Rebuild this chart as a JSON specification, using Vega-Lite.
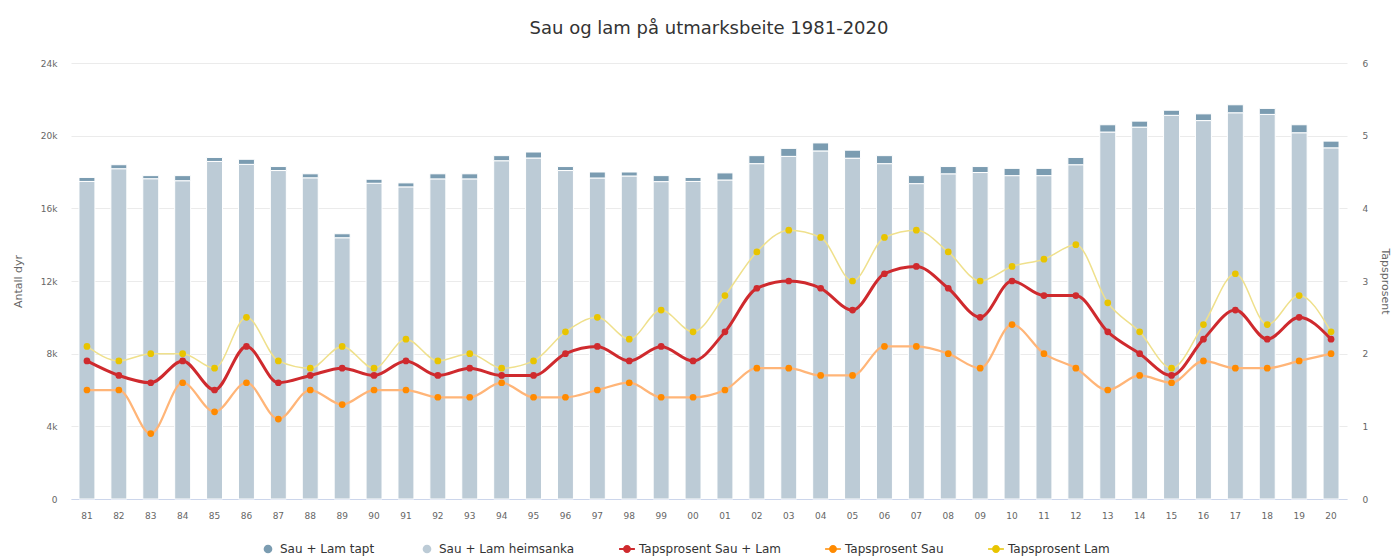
{
  "$schema": "https://vega.github.io/schema/vega-lite/v6.json",
  "width": 1276,
  "height": 436,
  "autosize": {"type": "none"},
  "padding": {"left": 71, "top": 63, "right": 46, "bottom": 59},
  "background": "white",
  "title": {"text": "Sau og lam på utmarksbeite 1981-2020", "font": "DejaVu Sans", "fontSize": 18, "fontWeight": "normal", "color": "#333333", "offset": 21, "anchor": "middle"},
  "config": {
    "view": {"stroke": null},
    "font": "DejaVu Sans",
    "axis": {"labelColor": "#666666", "labelFontSize": 9, "titleColor": "#666666", "titleFontSize": 11, "titleFontWeight": "normal", "ticks": false, "gridColor": "#ebebeb"},
    "legend": {"labelFontSize": 12, "labelColor": "#333333"}
  },
  "data": {"values": [
    {"aar": "81", "heimsanka": 17480, "tapt": 220, "tap_total": 1.9, "tap_sau": 1.5, "tap_lam": 2.1},
    {"aar": "82", "heimsanka": 18180, "tapt": 220, "tap_total": 1.7, "tap_sau": 1.5, "tap_lam": 1.9},
    {"aar": "83", "heimsanka": 17630, "tapt": 170, "tap_total": 1.6, "tap_sau": 0.9, "tap_lam": 2.0},
    {"aar": "84", "heimsanka": 17520, "tapt": 280, "tap_total": 1.9, "tap_sau": 1.6, "tap_lam": 2.0},
    {"aar": "85", "heimsanka": 18580, "tapt": 220, "tap_total": 1.5, "tap_sau": 1.2, "tap_lam": 1.8},
    {"aar": "86", "heimsanka": 18420, "tapt": 280, "tap_total": 2.1, "tap_sau": 1.6, "tap_lam": 2.5},
    {"aar": "87", "heimsanka": 18080, "tapt": 220, "tap_total": 1.6, "tap_sau": 1.1, "tap_lam": 1.9},
    {"aar": "88", "heimsanka": 17680, "tapt": 220, "tap_total": 1.7, "tap_sau": 1.5, "tap_lam": 1.8},
    {"aar": "89", "heimsanka": 14380, "tapt": 220, "tap_total": 1.8, "tap_sau": 1.3, "tap_lam": 2.1},
    {"aar": "90", "heimsanka": 17380, "tapt": 220, "tap_total": 1.7, "tap_sau": 1.5, "tap_lam": 1.8},
    {"aar": "91", "heimsanka": 17180, "tapt": 220, "tap_total": 1.9, "tap_sau": 1.5, "tap_lam": 2.2},
    {"aar": "92", "heimsanka": 17620, "tapt": 280, "tap_total": 1.7, "tap_sau": 1.4, "tap_lam": 1.9},
    {"aar": "93", "heimsanka": 17620, "tapt": 280, "tap_total": 1.8, "tap_sau": 1.4, "tap_lam": 2.0},
    {"aar": "94", "heimsanka": 18620, "tapt": 280, "tap_total": 1.7, "tap_sau": 1.6, "tap_lam": 1.8},
    {"aar": "95", "heimsanka": 18770, "tapt": 330, "tap_total": 1.7, "tap_sau": 1.4, "tap_lam": 1.9},
    {"aar": "96", "heimsanka": 18080, "tapt": 220, "tap_total": 2.0, "tap_sau": 1.4, "tap_lam": 2.3},
    {"aar": "97", "heimsanka": 17670, "tapt": 330, "tap_total": 2.1, "tap_sau": 1.5, "tap_lam": 2.5},
    {"aar": "98", "heimsanka": 17780, "tapt": 220, "tap_total": 1.9, "tap_sau": 1.6, "tap_lam": 2.2},
    {"aar": "99", "heimsanka": 17470, "tapt": 330, "tap_total": 2.1, "tap_sau": 1.4, "tap_lam": 2.6},
    {"aar": "00", "heimsanka": 17480, "tapt": 220, "tap_total": 1.9, "tap_sau": 1.4, "tap_lam": 2.3},
    {"aar": "01", "heimsanka": 17560, "tapt": 390, "tap_total": 2.3, "tap_sau": 1.5, "tap_lam": 2.8},
    {"aar": "02", "heimsanka": 18460, "tapt": 440, "tap_total": 2.9, "tap_sau": 1.8, "tap_lam": 3.4},
    {"aar": "03", "heimsanka": 18860, "tapt": 440, "tap_total": 3.0, "tap_sau": 1.8, "tap_lam": 3.7},
    {"aar": "04", "heimsanka": 19160, "tapt": 440, "tap_total": 2.9, "tap_sau": 1.7, "tap_lam": 3.6},
    {"aar": "05", "heimsanka": 18760, "tapt": 440, "tap_total": 2.6, "tap_sau": 1.7, "tap_lam": 3.0},
    {"aar": "06", "heimsanka": 18460, "tapt": 440, "tap_total": 3.1, "tap_sau": 2.1, "tap_lam": 3.6},
    {"aar": "07", "heimsanka": 17360, "tapt": 440, "tap_total": 3.2, "tap_sau": 2.1, "tap_lam": 3.7},
    {"aar": "08", "heimsanka": 17900, "tapt": 400, "tap_total": 2.9, "tap_sau": 2.0, "tap_lam": 3.4},
    {"aar": "09", "heimsanka": 17970, "tapt": 330, "tap_total": 2.5, "tap_sau": 1.8, "tap_lam": 3.0},
    {"aar": "10", "heimsanka": 17800, "tapt": 400, "tap_total": 3.0, "tap_sau": 2.4, "tap_lam": 3.2},
    {"aar": "11", "heimsanka": 17800, "tapt": 400, "tap_total": 2.8, "tap_sau": 2.0, "tap_lam": 3.3},
    {"aar": "12", "heimsanka": 18400, "tapt": 400, "tap_total": 2.8, "tap_sau": 1.8, "tap_lam": 3.5},
    {"aar": "13", "heimsanka": 20200, "tapt": 400, "tap_total": 2.3, "tap_sau": 1.5, "tap_lam": 2.7},
    {"aar": "14", "heimsanka": 20470, "tapt": 330, "tap_total": 2.0, "tap_sau": 1.7, "tap_lam": 2.3},
    {"aar": "15", "heimsanka": 21120, "tapt": 280, "tap_total": 1.7, "tap_sau": 1.6, "tap_lam": 1.8},
    {"aar": "16", "heimsanka": 20830, "tapt": 370, "tap_total": 2.2, "tap_sau": 1.9, "tap_lam": 2.4},
    {"aar": "17", "heimsanka": 21260, "tapt": 440, "tap_total": 2.6, "tap_sau": 1.8, "tap_lam": 3.1},
    {"aar": "18", "heimsanka": 21170, "tapt": 330, "tap_total": 2.2, "tap_sau": 1.8, "tap_lam": 2.4},
    {"aar": "19", "heimsanka": 20160, "tapt": 440, "tap_total": 2.5, "tap_sau": 1.9, "tap_lam": 2.8},
    {"aar": "20", "heimsanka": 19330, "tapt": 370, "tap_total": 2.2, "tap_sau": 2.0, "tap_lam": 2.3}
  ]},
  "encoding": {
    "x": {"field": "aar", "type": "nominal", "sort": null, "title": null,
      "scale": {"paddingInner": 0.5, "paddingOuter": 0.25},
      "axis": {"labelAngle": 0, "labelPadding": 12, "domainColor": "#ccd6eb", "grid": false}}
  },
  "layer": [
    {
      "transform": [{"fold": ["heimsanka", "tapt"], "as": ["serie", "antall"]}],
      "mark": {"type": "bar", "stroke": "white", "strokeWidth": 1},
      "encoding": {
        "y": {"field": "antall", "type": "quantitative", "stack": "zero", "title": "Antall dyr",
          "scale": {"domain": [0, 24000]},
          "axis": {"values": [0, 4000, 8000, 12000, 16000, 20000, 24000], "labelExpr": "datum.value == 0 ? '0' : (datum.value / 1000) + 'k'", "labelPadding": 14, "domain": false, "titleX": -48, "titleY": 218}},
        "color": {"field": "serie", "type": "nominal",
          "scale": {"domain": ["tapt", "heimsanka", "tap_total", "tap_sau", "tap_lam"], "range": ["#7b9cb1", "#bccbd6", "#cf2a2e", "#ff8a00", "#e8c400"]},
          "legend": {"title": null, "orient": "none", "legendX": 189, "legendY": 478, "direction": "horizontal", "columnPadding": 44, "symbolSize": 250, "symbolStrokeWidth": 0,
            "labelExpr": "({'tapt':'Sau + Lam tapt','heimsanka':'Sau + Lam heimsanka','tap_total':'Tapsprosent Sau + Lam','tap_sau':'Tapsprosent Sau','tap_lam':'Tapsprosent Lam'})[datum.label]"}},
        "order": {"field": "serie", "sort": "ascending"}
      }
    },
    {
      "transform": [{"fold": ["tap_total", "tap_sau", "tap_lam"], "as": ["serie", "pst"]}],
      "encoding": {
        "y": {"field": "pst", "type": "quantitative", "title": "Tapsprosent",
          "scale": {"domain": [0, 6]},
          "axis": {"orient": "right", "values": [0, 1, 2, 3, 4, 5, 6], "labelPadding": 15, "domain": false, "grid": false, "titleX": 32, "titleY": 218}}
      },
      "layer": [
        {
          "mark": {"type": "line", "interpolate": "monotone"},
          "encoding": {
            "stroke": {"field": "serie", "type": "nominal",
              "scale": {"domain": ["tap_total", "tap_sau", "tap_lam"], "range": ["#cf2a2e", "#ffb578", "#efe08c"]}, "legend": null},
            "strokeWidth": {"field": "serie", "type": "nominal",
              "scale": {"domain": ["tap_total", "tap_sau", "tap_lam"], "range": [3, 1.5, 1.5]}, "legend": null}
          }
        },
        {
          "mark": {"type": "point", "filled": true, "opacity": 1, "size": 45, "shape": "circle"},
          "encoding": {
            "color": {"field": "serie", "type": "nominal"}
          }
        },
        {
          "transform": [{"filter": "datum.pst < 0"}],
          "mark": {"type": "point", "filled": true, "opacity": 1},
          "encoding": {
            "color": {"field": "serie", "type": "nominal"},
            "shape": {"field": "serie", "type": "nominal",
              "scale": {"domain": ["tapt", "heimsanka", "tap_total", "tap_sau", "tap_lam"],
                "range": [
                  "M0.55,0A0.55,0.55 0 1,1 -0.55,0A0.55,0.55 0 1,1 0.55,0Z",
                  "M0.55,0A0.55,0.55 0 1,1 -0.55,0A0.55,0.55 0 1,1 0.55,0Z",
                  "M-1,-0.13L-0.48,-0.13L-0.48,0.13L-1,0.13Z M0.48,-0.13L1,-0.13L1,0.13L0.48,0.13Z M0.5,0A0.5,0.5 0 1,1 -0.5,0A0.5,0.5 0 1,1 0.5,0Z",
                  "M-1,-0.08L-0.48,-0.08L-0.48,0.08L-1,0.08Z M0.48,-0.08L1,-0.08L1,0.08L0.48,0.08Z M0.5,0A0.5,0.5 0 1,1 -0.5,0A0.5,0.5 0 1,1 0.5,0Z",
                  "M-1,-0.08L-0.48,-0.08L-0.48,0.08L-1,0.08Z M0.48,-0.08L1,-0.08L1,0.08L0.48,0.08Z M0.5,0A0.5,0.5 0 1,1 -0.5,0A0.5,0.5 0 1,1 0.5,0Z"]},
              "legend": {"title": null, "orient": "none", "legendX": 189, "legendY": 478, "direction": "horizontal", "symbolSize": 250, "symbolStrokeWidth": 0}}
          }
        }
      ]
    }
  ],
  "resolve": {"scale": {"y": "independent"}}
}
